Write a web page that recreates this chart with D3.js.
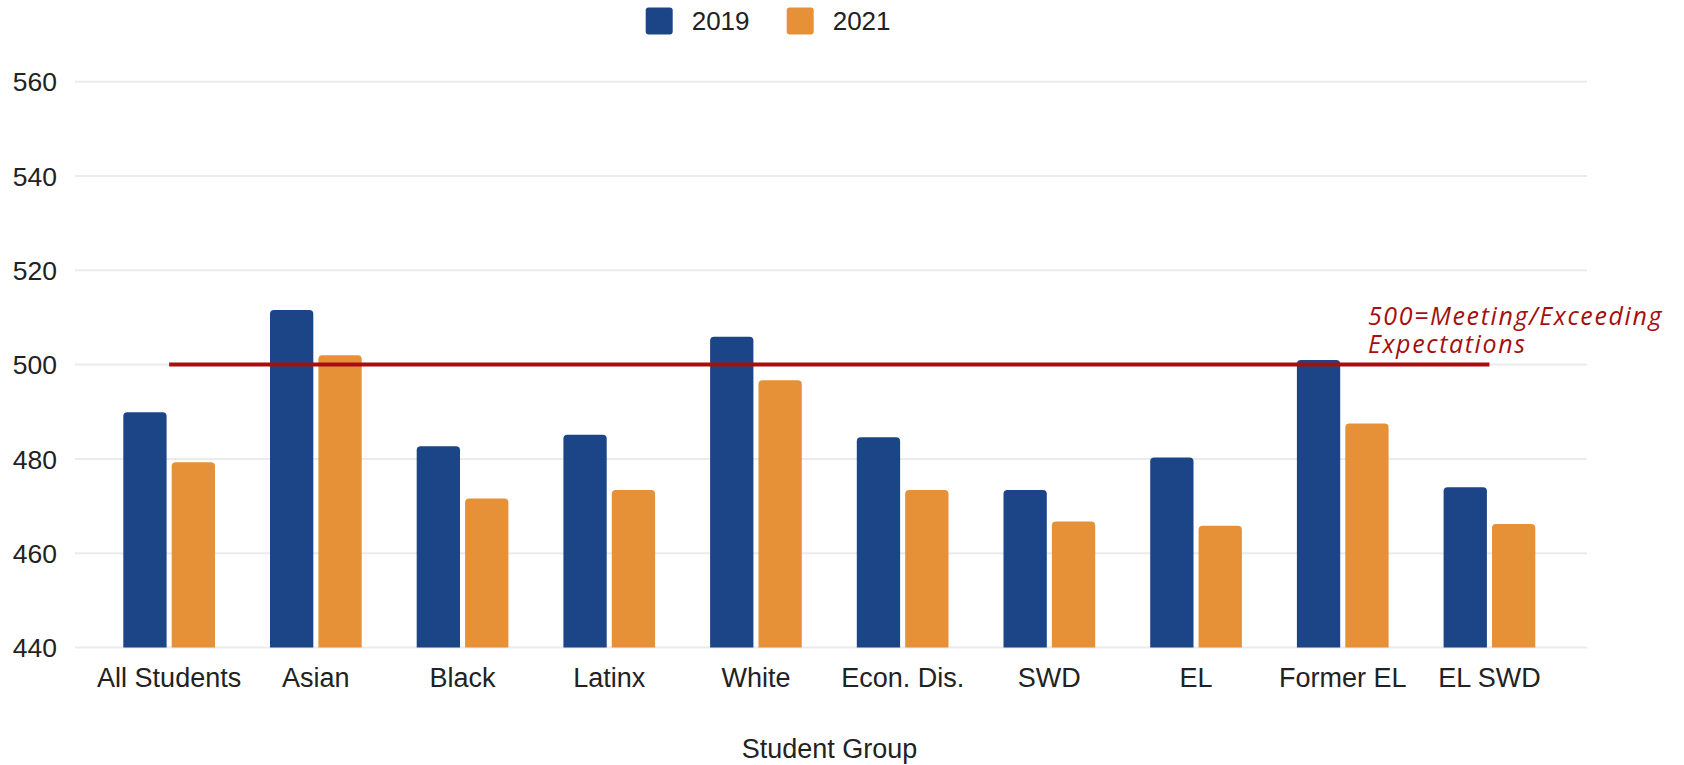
<!DOCTYPE html>
<html>
<head>
<meta charset="utf-8">
<script src="https://cdn.jsdelivr.net/npm/d3@7"></script>
<style>
  html, body { margin: 0; padding: 0; background: #fff; }
  svg { display: block; }
</style>
</head>
<body>
<svg id="chart" width="1684" height="765"></svg>
<script>
const categories = ["All Students", "Asian", "Black", "Latinx", "White", "Econ. Dis.", "SWD", "EL", "Former EL", "EL SWD"];
const seriesNames = ["2019", "2021"];
const values2019 = [489.9, 511.6, 482.7, 485.1, 505.9, 484.6, 473.4, 480.3, 501.0, 474.0];
const values2021 = [479.3, 502.0, 471.6, 473.4, 496.7, 473.4, 466.7, 465.8, 487.5, 466.2];
const yTicks = [440, 460, 480, 500, 520, 540, 560];
const targetValue = 500;
const targetLabel = ["500=Meeting/Exceeding", "Expectations"];
const xTitle = "Student Group";
const colors = ["#1c4587", "#e69138"];

const seriesValues = [values2019, values2021];
const svg = d3.select("#chart");

const y = d3.scaleLinear().domain([440, 560]).range([647.5, 81.7]);
const x0 = d3.scaleBand().domain(categories).range([95.8, 1562.8]).padding(0);
const groupInset = (x0.bandwidth() - 91.7) / 2;
const x1 = d3.scaleBand().domain(seriesNames).range([groupInset, x0.bandwidth() - groupInset]).paddingInner(0.105).paddingOuter(0);

// gridlines
svg.append("g").selectAll("line").data(yTicks).join("line")
  .attr("x1", 75).attr("x2", 1587)
  .attr("y1", d => y(d)).attr("y2", d => y(d))
  .attr("stroke", "#ebebeb").attr("stroke-width", 2);

// y axis labels
const yAxis = d3.axisLeft(y).tickValues(yTicks).tickSize(0).tickPadding(0);
const yg = svg.append("g").attr("transform", "translate(57,0)").call(yAxis);
yg.select(".domain").remove();
yg.selectAll("text").attr("font-family", "Liberation Sans, Arial, sans-serif").attr("font-size", 26.5).attr("fill", "#222").attr("dy", "0.35em");

// bars with rounded tops
function barPath(xp, w, yTop, yBot, r) {
  r = Math.min(r, w / 2, yBot - yTop);
  return `M${xp},${yBot}V${yTop + r}Q${xp},${yTop} ${xp + r},${yTop}H${xp + w - r}Q${xp + w},${yTop} ${xp + w},${yTop + r}V${yBot}Z`;
}
const barData = [];
categories.forEach((c, i) => {
  seriesNames.forEach((s, j) => barData.push({ c, s, v: seriesValues[j][i], j }));
});
svg.append("g").selectAll("path").data(barData).join("path")
  .attr("d", d => barPath(x0(d.c) + x1(d.s), x1.bandwidth(), y(d.v), y(440), 4))
  .attr("fill", d => colors[d.j]);

// x axis labels
const xAxis = d3.axisBottom(x0).tickSize(0).tickPadding(0);
const xg = svg.append("g").attr("transform", "translate(0,668)").call(xAxis);
xg.select(".domain").remove();
xg.selectAll("text").attr("font-family", "Liberation Sans, Arial, sans-serif").attr("font-size", 27).attr("fill", "#222").attr("dy", "0.71em");

// x title
svg.append("text").attr("x", 829.5).attr("y", 758).attr("text-anchor", "middle")
  .attr("font-family", "Liberation Sans, Arial, sans-serif").attr("font-size", 27).attr("fill", "#222")
  .text(xTitle);

// target line
const xStart = x0(categories[0]) + x0.bandwidth() / 2;
const xEnd = x0(categories[categories.length - 1]) + x0.bandwidth() / 2;
svg.append("line").attr("x1", xStart).attr("x2", xEnd)
  .attr("y1", y(targetValue)).attr("y2", y(targetValue))
  .attr("stroke", "#a50f0f").attr("stroke-width", 4);

const ann = svg.append("text").attr("font-family", "'Open Sans', Lato, sans-serif").attr("font-style", "italic")
  .attr("font-size", 25).attr("letter-spacing", 1.6).attr("fill", "#a50f0f");
ann.selectAll("tspan").data(targetLabel).join("tspan")
  .attr("x", 1368).attr("y", (d, i) => 325 + i * 28).text(d => d);

// legend
const legend = svg.append("g");
const legendX = [645.7, 786.7];
seriesNames.forEach((s, j) => {
  legend.append("rect").attr("x", legendX[j]).attr("y", 7.5).attr("width", 27).attr("height", 27)
    .attr("rx", 3).attr("fill", colors[j]);
  legend.append("text").attr("x", legendX[j] + 46).attr("y", 30)
    .attr("font-family", "Liberation Sans, Arial, sans-serif").attr("font-size", 26).attr("fill", "#222")
    .text(s);
});
</script>
</body>
</html>
